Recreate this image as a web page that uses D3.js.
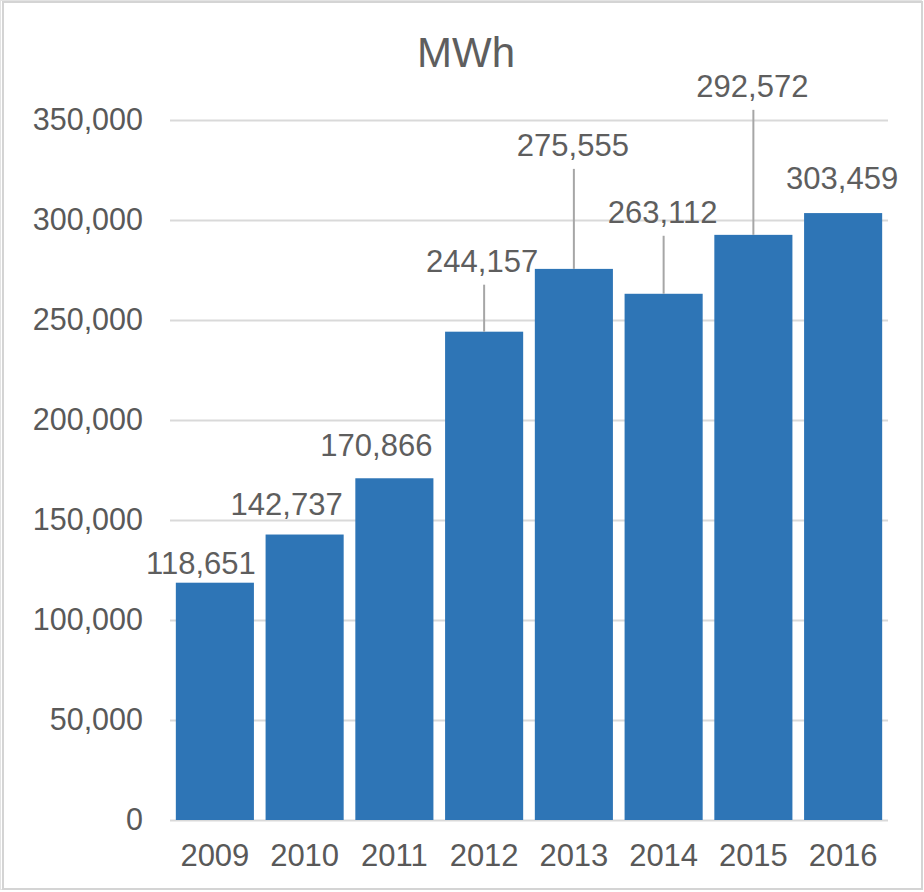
<!DOCTYPE html>
<html>
<head>
<meta charset="utf-8">
<script src="https://cdn.jsdelivr.net/npm/d3@7"></script>
<style>
  body { margin: 0; background: #fff; }
  text { font-family: "Liberation Sans", Arial, sans-serif; fill: #595959; }
</style>
</head>
<body>
<svg id="chart"></svg>
<script>
// data
const years = ['2009', '2010', '2011', '2012', '2013', '2014', '2015', '2016'];
const mwh = [118651, 142737, 170866, 244157, 275555, 263112, 292572, 303459];
const yTicks = [0, 50000, 100000, 150000, 200000, 250000, 300000, 350000];

// where Excel dropped each data label, relative to bar centre / bar top (px)
const labelShift = [[-14, -9], [-18, -20], [-18, -22], [-2, -60], [-1, -113], [-1, -71], [-1, -138], [-1, -24]];
const hasLeader = [false, false, false, true, true, true, true, false];

const W = 924, H = 892;
const margin = { top: 120, right: 36, bottom: 72, left: 170 };
const width = W - margin.left - margin.right,
    height = H - margin.top - margin.bottom;

const svg = d3.select('#chart').attr('width', W).attr('height', H);

// outer frame
svg.append('rect').attr('x', 0.5).attr('y', 0.5).attr('width', W - 3).attr('height', H - 3)
    .attr('fill', 'none').attr('stroke', '#e3e3e3').attr('stroke-width', 1);
svg.append('rect').attr('x', 3).attr('y', 2).attr('width', W - 5).attr('height', H - 5)
    .attr('fill', 'none').attr('stroke', '#d4d4d4').attr('stroke-width', 2);

const g = svg.append('g').attr('transform', `translate(${margin.left},${margin.top})`);

const x = d3.scaleBand().domain(years).range([0, width]).paddingInner(0.13).paddingOuter(0.065);
const y = d3.scaleLinear().domain([0, 350000]).range([height, 0]);

// gridlines + y labels
const yAxis = d3.axisLeft(y).tickValues(yTicks).tickSize(-width).tickPadding(27)
    .tickFormat(d3.format(','));
g.append('g').call(yAxis)
    .call((a) => a.select('.domain').remove())
    .call((a) => a.selectAll('line').attr('stroke', '#d9d9d9').attr('stroke-width', 2))
    .call((a) => a.selectAll('text').attr('font-size', 30.5).attr('fill', '#5e5e5e')
        .attr('font-family', '"Liberation Sans", Arial, sans-serif'));

// bars
g.selectAll('rect.bar')
    .data(mwh)
    .join('rect')
    .attr('class', 'bar')
    .attr('x', (d, i) => x(years[i]))
    .attr('y', (d) => y(d))
    .attr('width', x.bandwidth())
    .attr('height', (d) => y(0) - y(d))
    .attr('fill', '#2e75b6');

// x labels
const xAxis = d3.axisBottom(x).tickSize(0).tickPadding(24);
g.append('g').attr('transform', `translate(0,${height})`).call(xAxis)
    .call((a) => a.select('.domain').remove())
    .call((a) => a.selectAll('text').attr('font-size', 31).attr('fill', '#5e5e5e')
        .attr('font-family', '"Liberation Sans", Arial, sans-serif'));

// leader lines
g.selectAll('line.leader')
    .data(mwh.map((v, i) => ({ v, i })).filter((d) => hasLeader[d.i]))
    .join('line')
    .attr('class', 'leader')
    .attr('x1', (d) => x(years[d.i]) + x.bandwidth() / 2)
    .attr('x2', (d) => x(years[d.i]) + x.bandwidth() / 2)
    .attr('y1', (d) => y(d.v) + labelShift[d.i][1] + 13)
    .attr('y2', (d) => y(d.v))
    .attr('stroke', '#a6a6a6')
    .attr('stroke-width', 2);

// data labels
g.selectAll('text.val')
    .data(mwh)
    .join('text')
    .attr('class', 'val')
    .attr('x', (d, i) => x(years[i]) + x.bandwidth() / 2 + labelShift[i][0])
    .attr('y', (d, i) => y(d) + labelShift[i][1])
    .attr('text-anchor', 'middle')
    .attr('font-size', 31)
    .style('fill', '#5e5e5e')
    .text((d) => d3.format(',')(d));

// title
svg.append('text')
    .attr('x', 466)
    .attr('y', 67)
    .attr('text-anchor', 'middle')
    .attr('font-size', 42)
    .style('fill', '#5e5e5e')
    .text('MWh');
</script>
</body>
</html>
